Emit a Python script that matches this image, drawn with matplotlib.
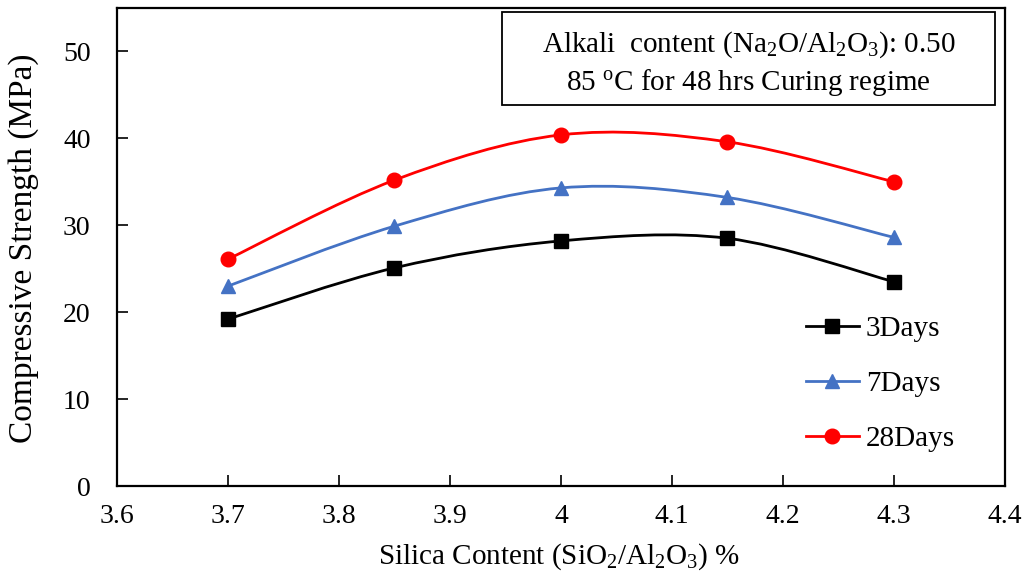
import numpy as np
import matplotlib
matplotlib.use("Agg")
import matplotlib.pyplot as plt
from matplotlib.path import Path
from matplotlib.patches import PathPatch, Rectangle
from matplotlib.lines import Line2D

plt.rcParams['font.family'] = ['Liberation Serif', 'DejaVu Serif']
plt.rcParams['mathtext.fontset'] = 'custom'
plt.rcParams['mathtext.rm'] = 'Liberation Serif'
plt.rcParams['mathtext.it'] = 'Liberation Serif:italic'

silica = [3.7, 3.85, 4.0, 4.15, 4.3]
days3 = [19.2, 25.1, 28.2, 28.5, 23.5]
days7 = [23.0, 29.9, 34.3, 33.2, 28.6]
days28 = [26.1, 35.2, 40.4, 39.6, 35.0]
series_labels = ['3Days', '7Days', '28Days']
colors = ['#000000', '#4472C4', '#FF0000']
markers = ['s', '^', 'o']
xticks = [3.6, 3.7, 3.8, 3.9, 4.0, 4.1, 4.2, 4.3, 4.4]
xticklabels = ['3.6', '3.7', '3.8', '3.9', '4', '4.1', '4.2', '4.3', '4.4']
yticks = [0, 10, 20, 30, 40, 50]

fig = plt.figure(figsize=(10.24, 5.81), dpi=100)
ax = fig.add_axes([117/1024, 1-486/581, (1005-117)/1024, (486-8)/581])


def smooth_path(x, y):
    x = np.asarray(x, float); y = np.asarray(y, float)
    n = len(x)
    verts = [(x[0], y[0])]
    codes = [Path.MOVETO]
    for i in range(n - 1):
        p0 = np.array([x[max(i-1, 0)], y[max(i-1, 0)]])
        p1 = np.array([x[i], y[i]])
        p2 = np.array([x[i+1], y[i+1]])
        p3 = np.array([x[min(i+2, n-1)], y[min(i+2, n-1)]])
        c1 = p1 + (p2 - p0) / 6.0
        c2 = p2 - (p3 - p1) / 6.0
        verts += [tuple(c1), tuple(c2), tuple(p2)]
        codes += [Path.CURVE4] * 3
    return Path(verts, codes)


handles = []
for vals, lab, c, m in zip([days3, days7, days28], series_labels, colors, markers):
    patch = PathPatch(smooth_path(silica, vals), facecolor='none', edgecolor=c, lw=2.0, zorder=2)
    ax.add_patch(patch)
    ms = 10.5
    ax.plot(silica, vals, linestyle='none', marker=m, color=c, markersize=ms, zorder=3)
    handles.append(Line2D([], [], color=c, marker=m, markersize=ms, lw=2.0))

ax.set_xlim(3.6, 4.4)
ax.set_ylim(0, 55)
ax.set_xticks(xticks)
ax.set_xticklabels(xticklabels)
ax.set_yticks(yticks)
ax.tick_params(direction='in', length=8, width=1.2, labelsize=20)
ax.tick_params(axis='y', pad=19)
ax.tick_params(axis='x', pad=13)
for s in ax.spines.values():
    s.set_linewidth(1.6)

ax.set_xlabel(r'Silica Content (SiO$_2$/Al$_2$O$_3$) %', fontsize=21)
ax.set_ylabel('Compressive Strength (MPa)', fontsize=24)
ax.xaxis.set_label_coords(0.498, -0.115)
ax.yaxis.set_label_coords(-0.088, 0.498)

leg = ax.legend(handles, series_labels, loc='center left', bbox_to_anchor=(0.776, 0.213),
                frameon=False, fontsize=21, handlelength=1.8, labelspacing=0.98,
                handletextpad=0.25, borderpad=0, borderaxespad=0)

# annotation box
x0 = (502-117)/888; x1 = (995-117)/888
y0 = (486-105)/478; y1 = (486-12)/478
ax.add_patch(Rectangle((x0, y0), x1-x0, y1-y0, transform=ax.transAxes, facecolor='white',
                       edgecolor='black', lw=1.3, zorder=5))
ax.text((x0+x1)/2, (486-45)/478, 'Alkali  content (Na$_2$O/Al$_2$O$_3$): 0.50',
        transform=ax.transAxes, ha='center', va='center', fontsize=21, zorder=6)
ax.text((x0+x1)/2, (486-82)/478, '85 $^{\\mathrm{o}}$C for 48 hrs Curing regime',
        transform=ax.transAxes, ha='center', va='center', fontsize=21, zorder=6)

fig.savefig('out.png', dpi=100)
